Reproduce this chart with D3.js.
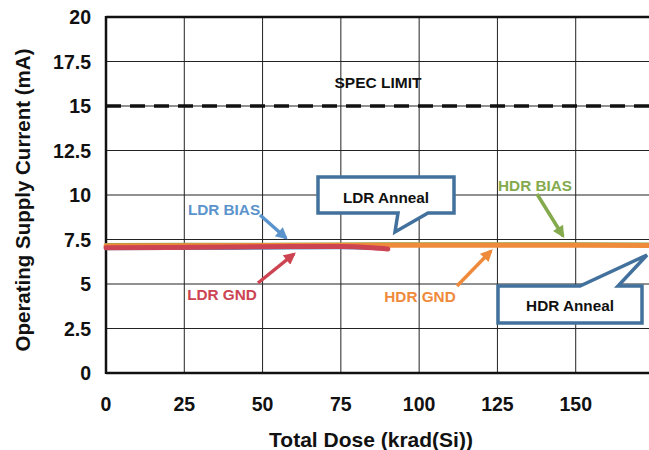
<!DOCTYPE html>
<html>
<head>
<meta charset="utf-8">
<script src="https://cdn.jsdelivr.net/npm/d3@7"></script>
<style>
  body { margin: 0; background: #fff; }
  svg text { font-family: "Liberation Sans", Arial, sans-serif; font-weight: bold; }
</style>
</head>
<body>
<div id="chart"></div>
<script>
// data
var xTicks = [0, 25, 50, 75, 100, 125, 150];
var yTicks = [0, 2.5, 5, 7.5, 10, 12.5, 15, 17.5, 20];
var specLimit = 15;

var ldrDose = [0, 20, 40, 60, 75, 85, 90];
var ldrBias = [6.98, 6.99, 7.0, 7.02, 7.03, 7.0, 6.97];
var ldrGnd  = [7.03, 7.05, 7.08, 7.1, 7.1, 7.03, 6.96];

var hdrDose = [0, 25, 50, 75, 100, 125, 150, 175];
var hdrBias = [7.22, 7.23, 7.24, 7.25, 7.26, 7.26, 7.26, 7.25];
var hdrGnd  = [7.14, 7.15, 7.16, 7.17, 7.17, 7.17, 7.17, 7.16];

var W = 649, H = 450;
var x = d3.scaleLinear().domain([0, 175]).range([106, 654]);
var y = d3.scaleLinear().domain([0, 20]).range([373, 17]);

var svg = d3.select("#chart").append("svg").attr("width", W).attr("height", H);

// arrow markers, one per colour
var colors = { blue: "#5b93cc", red: "#cc4451", orange: "#ef8a3b", green: "#84aa4d" };
svg.append("defs").selectAll("marker")
    .data(Object.keys(colors))
    .enter().append("marker")
    .attr("id", function(d) { return "arr-" + d; })
    .attr("viewBox", "0 0 10 10")
    .attr("refX", 8).attr("refY", 5)
    .attr("markerUnits", "userSpaceOnUse")
    .attr("markerWidth", 14).attr("markerHeight", 12)
    .attr("orient", "auto")
    .append("path")
    .attr("d", "M 0 0 L 10 5 L 0 10 z")
    .style("fill", function(d) { return colors[d]; });

// grid
svg.append("g").selectAll("line")
    .data(yTicks.slice(1, -1))
    .enter().append("line")
    .attr("x1", x(0)).attr("x2", W)
    .attr("y1", function(d) { return y(d); }).attr("y2", function(d) { return y(d); })
    .attr("stroke", "#222").attr("stroke-width", 1);
svg.append("g").selectAll("line")
    .data(xTicks.slice(1).concat([175]))
    .enter().append("line")
    .attr("x1", function(d) { return x(d); }).attr("x2", function(d) { return x(d); })
    .attr("y1", y(20)).attr("y2", y(0))
    .attr("stroke", "#222").attr("stroke-width", 1);

// frame
svg.append("line").attr("x1", x(0)).attr("x2", W).attr("y1", y(20)).attr("y2", y(20))
    .attr("stroke", "#111").attr("stroke-width", 2.5);
svg.append("line").attr("x1", x(0)).attr("x2", W).attr("y1", y(0)).attr("y2", y(0))
    .attr("stroke", "#111").attr("stroke-width", 2.5);
svg.append("line").attr("x1", x(0)).attr("x2", x(0)).attr("y1", y(20) - 1).attr("y2", y(0) + 1)
    .attr("stroke", "#111").attr("stroke-width", 2.5);

// tick labels
svg.append("g").selectAll("text")
    .data(yTicks).enter().append("text")
    .attr("x", 91).attr("y", function(d) { return y(d) + 7; })
    .attr("text-anchor", "end").attr("font-size", 19.5).attr("fill", "#111")
    .text(function(d) { return d; });
svg.append("g").selectAll("text")
    .data(xTicks).enter().append("text")
    .attr("x", function(d) { return x(d); }).attr("y", 411)
    .attr("text-anchor", "middle").attr("font-size", 19.5).attr("fill", "#111")
    .text(function(d) { return d; });

// axis titles
svg.append("text").attr("x", 371).attr("y", 447).attr("text-anchor", "middle")
    .attr("font-size", 21).attr("fill", "#111").text("Total Dose (krad(Si))");
svg.append("text").attr("transform", "translate(30,200) rotate(-90)")
    .attr("text-anchor", "middle").attr("font-size", 20.5).attr("fill", "#111")
    .text("Operating Supply Current (mA)");

// spec limit
svg.append("line").attr("x1", x(0)).attr("x2", W)
    .attr("y1", y(specLimit)).attr("y2", y(specLimit))
    .attr("stroke", "#111").attr("stroke-width", 3.5).attr("stroke-dasharray", "15,9");
svg.append("text").attr("x", 378).attr("y", 88).attr("text-anchor", "middle")
    .attr("font-size", 15.5).attr("fill", "#111").text("SPEC LIMIT");

// series
var line = d3.line().x(function(d) { return x(d[0]); }).y(function(d) { return y(d[1]); })
    .curve(d3.curveMonotoneX);
function addSeries(dose, vals, color, w) {
    svg.append("path")
        .datum(d3.zip(dose, vals))
        .attr("d", line)
        .attr("fill", "none").attr("stroke", color).attr("stroke-width", w)
        .attr("stroke-linecap", "round");
}
addSeries(hdrDose, hdrBias, colors.green, 3);
addSeries(hdrDose, hdrGnd, colors.orange, 5);
addSeries(ldrDose, ldrBias, colors.blue, 3);
addSeries(ldrDose, ldrGnd, colors.red, 5);

// labels with arrows
var labels = [
    { t: "LDR BIAS", c: "blue", tx: 224, ty: 215, a: [[260, 215], [286, 238]] },
    { t: "LDR GND", c: "red", tx: 222, ty: 300, a: [[258, 283], [294, 254]] },
    { t: "HDR GND", c: "orange", tx: 420, ty: 302, a: [[457, 286], [491, 251]] },
    { t: "HDR BIAS", c: "green", tx: 535, ty: 191, a: [[537, 194], [563, 236]] }
];
labels.forEach(function(l) {
    svg.append("text").attr("x", l.tx).attr("y", l.ty).attr("text-anchor", "middle")
        .attr("font-size", 15.3).attr("fill", colors[l.c]).text(l.t);
    svg.append("line")
        .attr("x1", l.a[0][0]).attr("y1", l.a[0][1])
        .attr("x2", l.a[1][0]).attr("y2", l.a[1][1])
        .attr("stroke", colors[l.c]).attr("stroke-width", 3.5)
        .attr("marker-end", "url(#arr-" + l.c + ")");
});

// callouts
var callouts = [
    { t: "LDR Anneal", tx: 386, ty: 203,
      p: [[318, 177], [454, 177], [454, 213], [428, 213], [395, 232], [398, 213], [318, 213]] },
    { t: "HDR Anneal", tx: 570, ty: 311,
      p: [[498, 286], [580, 286], [647, 255], [618, 286], [642, 286], [642, 323], [498, 323]] }
];
callouts.forEach(function(c) {
    svg.append("path")
        .attr("d", d3.line()(c.p) + "Z")
        .attr("fill", "#fff").attr("stroke", "#41719c").attr("stroke-width", 3.5)
        .attr("stroke-linejoin", "miter");
    svg.append("text").attr("x", c.tx).attr("y", c.ty).attr("text-anchor", "middle")
        .attr("font-size", 15.3).attr("fill", "#111").text(c.t);
});
</script>
</body>
</html>
